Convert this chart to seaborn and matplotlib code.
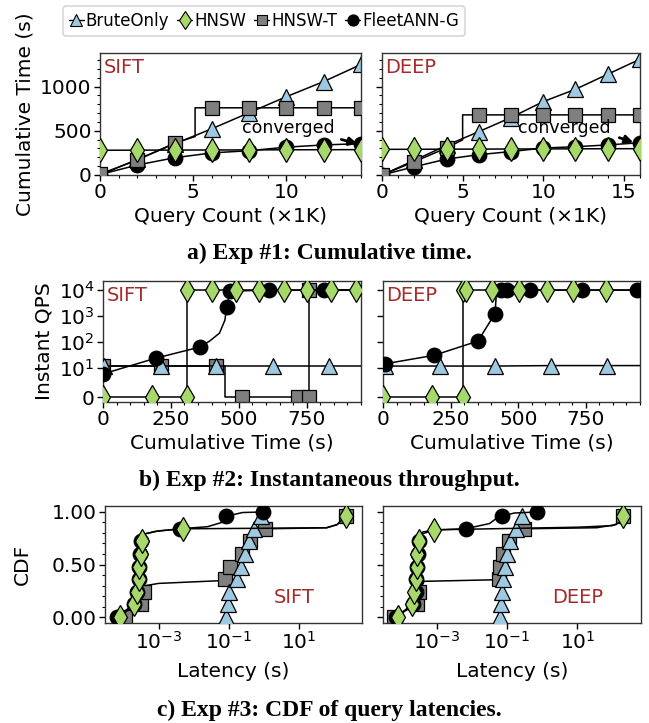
import numpy as np
import matplotlib
matplotlib.use("Agg")
import matplotlib.pyplot as plt
from matplotlib.lines import Line2D
from matplotlib.ticker import MultipleLocator, NullLocator, FixedLocator, FixedFormatter
import seaborn as sns

sns.set_style("ticks")
plt.rcParams["font.family"] = ["DejaVu Sans"]
plt.rcParams["text.color"] = "black"
plt.rcParams["axes.labelcolor"] = "black"
plt.rcParams["xtick.color"] = "black"
plt.rcParams["ytick.color"] = "black"

# ---------------- DATA ----------------
series_names = ["BruteOnly", "HNSW", "HNSW-T", "FleetANN-G"]
datasets = ["SIFT", "DEEP"]

# Exp 1: cumulative time vs query count (x1K)
q_sift = [0, 2, 4, 6, 8, 10, 12, 14]
brute_cum_sift = [0, 176, 352, 523, 705, 886, 1057, 1250]
hnsw_cum_sift = [280, 281, 282, 283, 284, 285, 286, 287]
fleet_cum_sift = [5, 113, 195, 250, 275, 315, 340, 355]
hnswt_q_sift = [0, 2, 4, 5.1, 5.1, 6, 8, 10, 12, 14]
hnswt_cum_sift = [10, 170, 360, 435, 760, 760, 760, 760, 760, 760]
hnswt_mk_sift = [0, 1, 2, 5, 6, 7, 8, 9]

q_deep = [0, 2, 4, 6, 8, 10, 12, 14, 16]
brute_cum_deep = [0, 165, 335, 490, 650, 830, 970, 1140, 1310]
hnsw_cum_deep = [290, 291, 292, 293, 294, 295, 296, 297, 298]
fleet_cum_deep = [0, 93, 180, 230, 265, 305, 320, 340, 365]
hnswt_q_deep = [0, 2, 4, 5.0, 5.0, 6, 8, 10, 12, 14, 16]
hnswt_cum_deep = [0, 150, 306, 398, 680, 680, 680, 680, 680, 680, 680]
hnswt_mk_deep = [0, 1, 2, 5, 6, 7, 8, 9, 10]

# Exp 2: instantaneous QPS vs cumulative time (s)
brute_t_sift = [3, 212, 417, 625, 834, 1042]
brute_qps_sift = [12, 12, 12, 12, 12, 12]
hnsw_t_sift = [0, 182, 310, 310, 400, 488, 576, 665, 753, 841, 930, 1018]
hnsw_qps_sift = [0, 0, 0, 9800, 9800, 9800, 9800, 9800, 9800, 9800, 9800, 9800]
hnswt_t_sift = [0, 212, 417, 450, 450, 513, 717, 760, 760, 1000]
hnswt_qps_sift = [12, 12, 12, 12, 0, 0, 0, 0, 9800, 9800]
hnswt_mk2_sift = [0, 1, 2, 5, 6, 7, 8]
fleet_t_sift = [0, 194, 356, 393, 429, 449, 455, 468, 612, 815, 1000]
fleet_qps_sift = [8, 24, 64, 110, 220, 700, 2150, 9000, 9800, 9800, 9800]
fleet_mk2_sift = [0, 1, 2, 6, 7, 8, 9, 10]

brute_t_deep = [7, 211, 414, 621, 829, 1036]
brute_qps_deep = [12, 12, 12, 12.5, 12.5, 12.5]
hnsw_t_deep = [0, 181, 296, 296, 305, 403, 503, 607, 703, 825, 1050]
hnsw_qps_deep = [0, 0, 0, 9800, 9800, 9800, 9800, 9800, 9800, 9800, 9800]
hnsw_mk2_deep = [0, 1, 2, 3, 4, 5, 6, 7, 8, 9]
fleet_t_deep = [7, 189, 351, 414, 420, 435, 457, 544, 736, 938, 1050]
fleet_qps_deep = [14.6, 31, 109, 1240, 9800, 9800, 9800, 9800, 9800, 9800, 9800]
fleet_mk2_deep = [0, 1, 2, 3, 5, 6, 7, 8, 9]

# Exp 3: CDF of query latencies (latency given as log10 seconds)
brute_lat_sift = [-1.07, -1.03, -1.0, -0.77, -0.65, -0.53, -0.43, -0.27, -0.07]
brute_cdf_sift = [0, 0.12, 0.24, 0.36, 0.48, 0.60, 0.72, 0.84, 0.96]
hnsw_lat_sift = [-4.11, -3.69, -3.63, -3.57, -3.55, -3.50, -3.48, -3.40, -3.0, -2.3, 0.0, 1.8, 2.1, 2.25, 2.34]
hnsw_cdf_sift = [0, 0.12, 0.24, 0.36, 0.48, 0.60, 0.72, 0.79, 0.82, 0.84, 0.845, 0.85, 0.88, 0.93, 0.96]
hnsw_mk3_sift = [0, 1, 2, 3, 4, 5, 6, 9, 14]
hnswt_lat_sift = [-3.97, -3.49, -3.43, -3.35, -3.0, -1.3, -1.09, -0.97, -0.63, -0.40, 0.03, 1.0, 1.8, 2.1, 2.25, 2.34]
hnswt_cdf_sift = [0, 0.12, 0.24, 0.30, 0.32, 0.345, 0.36, 0.48, 0.60, 0.72, 0.84, 0.845, 0.85, 0.88, 0.93, 0.96]
hnswt_mk3_sift = [0, 1, 2, 6, 7, 8, 9, 10, 15]
fleet_lat_sift = [-4.2, -3.71, -3.63, -3.57, -3.55, -3.52, -3.50, -3.42, -3.1, -2.4, -1.6, -1.2, -1.06, -0.6, -0.03, 0.12]
fleet_cdf_sift = [0, 0.12, 0.24, 0.36, 0.48, 0.60, 0.72, 0.79, 0.815, 0.84, 0.86, 0.90, 0.96, 0.995, 1.0, 1.0]
fleet_mk3_sift = [0, 1, 2, 3, 4, 5, 6, 9, 12, 14]

brute_lat_deep = [-1.19, -1.18, -1.14, -1.12, -1.07, -1.0, -0.93, -0.76, -0.57]
brute_cdf_deep = [0, 0.12, 0.24, 0.36, 0.48, 0.60, 0.72, 0.84, 0.96]
hnsw_lat_deep = [-4.11, -3.71, -3.64, -3.60, -3.57, -3.55, -3.52, -3.42, -3.09, 1.0, 2.0, 2.2, 2.31]
hnsw_cdf_deep = [0, 0.12, 0.24, 0.36, 0.48, 0.60, 0.72, 0.79, 0.83, 0.855, 0.87, 0.90, 0.96]
hnsw_mk3_deep = [0, 1, 2, 3, 4, 5, 6, 8, 12]
hnswt_lat_deep = [-4.21, -3.57, -3.50, -3.36, -1.28, -1.23, -1.20, -1.11, -0.95, -0.53, 1.55, 2.1, 2.31]
hnswt_cdf_deep = [0, 0.12, 0.24, 0.34, 0.355, 0.36, 0.48, 0.60, 0.72, 0.84, 0.85, 0.88, 0.96]
hnswt_mk3_deep = [0, 1, 2, 5, 6, 7, 8, 9, 12]
fleet_lat_deep = [-4.16, -3.69, -3.60, -3.60, -3.55, -3.53, -3.50, -3.40, -3.0, -2.18, -1.5, -1.3, -1.14, -0.8, -0.15]
fleet_cdf_deep = [0, 0.12, 0.24, 0.36, 0.48, 0.60, 0.72, 0.81, 0.83, 0.84, 0.89, 0.94, 0.96, 0.99, 1.0]
fleet_mk3_deep = [0, 1, 2, 3, 4, 5, 6, 9, 12, 14]

# ---------------- STYLE ----------------
W, H = 649, 723
colors = {"BruteOnly": "#9ecae1", "HNSW": "#a6d96a", "HNSW-T": "#7f7f7f", "FleetANN-G": "#000000"}
markers = {"BruteOnly": "^", "HNSW": "d", "HNSW-T": "s", "FleetANN-G": "o"}
msize = {"BruteOnly": 11, "HNSW": 12, "HNSW-T": 10, "FleetANN-G": 10.5}
label_red = "#a52a2a"
FS = 14.5

fig = plt.figure(figsize=(W / 100, H / 100), dpi=100)


def rect(x0, y0, x1, y1):
    return [x0 / W, 1 - y1 / H, (x1 - x0) / W, (y1 - y0) / H]


def draw(ax, name, x, y, mk=None, z=2):
    sns.lineplot(x=x, y=y, ax=ax, estimator=None, sort=False, color="black", lw=1.1,
                 marker=markers[name], markevery=mk, markersize=msize[name],
                 markerfacecolor=colors[name], markeredgecolor="black",
                 markeredgewidth=0.9, zorder=z, clip_on=True)


def style_ax(ax):
    for s in ax.spines.values():
        s.set_color("#333333")
        s.set_linewidth(1.0)
    ax.tick_params(which="major", labelsize=FS, length=4, width=1, direction="out", pad=2)
    ax.tick_params(which="minor", length=2.5, width=0.8, direction="out")


# ---------- Row 1 ----------
ax1a = fig.add_axes(rect(100, 53, 361, 175))
ax1b = fig.add_axes(rect(382, 53, 640, 175))
z1 = {"BruteOnly": 2, "FleetANN-G": 3, "HNSW-T": 4, "HNSW": 5}
draw(ax1a, "BruteOnly", q_sift, brute_cum_sift, None, z1["BruteOnly"])
draw(ax1a, "FleetANN-G", q_sift, fleet_cum_sift, None, z1["FleetANN-G"])
draw(ax1a, "HNSW-T", hnswt_q_sift, hnswt_cum_sift, hnswt_mk_sift, z1["HNSW-T"])
draw(ax1a, "HNSW", q_sift, hnsw_cum_sift, None, z1["HNSW"])
draw(ax1b, "BruteOnly", q_deep, brute_cum_deep, None, z1["BruteOnly"])
draw(ax1b, "FleetANN-G", q_deep, fleet_cum_deep, None, z1["FleetANN-G"])
draw(ax1b, "HNSW-T", hnswt_q_deep, hnswt_cum_deep, hnswt_mk_deep, z1["HNSW-T"])
draw(ax1b, "HNSW", q_deep, hnsw_cum_deep, None, z1["HNSW"])
ax1a.set_xlim(0, 14)
ax1b.set_xlim(0, 16)
for ax in (ax1a, ax1b):
    ax.set_ylim(0, 1380)
    ax.xaxis.set_major_locator(MultipleLocator(5))
    ax.xaxis.set_minor_locator(MultipleLocator(1))
    ax.yaxis.set_major_locator(MultipleLocator(500))
    ax.yaxis.set_minor_locator(MultipleLocator(100))
    ax.set_xlabel("Query Count (×1K)", fontsize=FS, labelpad=3)
    ax.set_ylabel("")
    style_ax(ax)
ax1b.tick_params(labelleft=False)
ax1a.set_ylabel("Cumulative Time (s)", fontsize=FS, labelpad=4)
ax1a.text(0.015, 0.96, "SIFT", transform=ax1a.transAxes, color=label_red, fontsize=14, va="top", ha="left")
ax1b.text(0.012, 0.96, "DEEP", transform=ax1b.transAxes, color=label_red, fontsize=14, va="top", ha="left")
ax1a.text(10.1, 534, "converged", fontsize=12.5, ha="center", va="center", zorder=6)
ax1b.text(11.3, 534, "converged", fontsize=12.5, ha="center", va="center", zorder=6)
ax1a.annotate("", xy=(13.95, 345), xytext=(12.8, 410),
              arrowprops=dict(arrowstyle="-|>", color="black", lw=2, mutation_scale=12), zorder=6)
ax1b.annotate("", xy=(15.75, 360), xytext=(14.55, 432),
              arrowprops=dict(arrowstyle="-|>", color="black", lw=2, mutation_scale=12), zorder=6)

# ---------- Row 2 ----------
ax2a = fig.add_axes(rect(103, 281, 361, 402))
ax2b = fig.add_axes(rect(383, 281, 640, 402))
z2 = {"HNSW-T": 2, "BruteOnly": 3, "FleetANN-G": 4, "HNSW": 5}
draw(ax2a, "HNSW-T", hnswt_t_sift, hnswt_qps_sift, hnswt_mk2_sift, z2["HNSW-T"])
draw(ax2a, "BruteOnly", brute_t_sift, brute_qps_sift, None, z2["BruteOnly"])
draw(ax2a, "FleetANN-G", fleet_t_sift, fleet_qps_sift, fleet_mk2_sift, z2["FleetANN-G"])
draw(ax2a, "HNSW", hnsw_t_sift, hnsw_qps_sift, None, z2["HNSW"])
draw(ax2b, "BruteOnly", brute_t_deep, brute_qps_deep, None, z2["BruteOnly"])
draw(ax2b, "FleetANN-G", fleet_t_deep, fleet_qps_deep, fleet_mk2_deep, z2["FleetANN-G"])
draw(ax2b, "HNSW", hnsw_t_deep, hnsw_qps_deep, hnsw_mk2_deep, z2["HNSW"])
for ax in (ax2a, ax2b):
    ax.set_yscale("symlog", linthresh=10, linscale=1)
    ax.set_ylim(-1.7, 2.2e4)
    ax.set_xlim(0, 950)
    ax.yaxis.set_major_locator(FixedLocator([0, 10, 100, 1000, 10000]))
    ax.yaxis.set_major_formatter(FixedFormatter(["0", "$10^1$", "$10^2$", "$10^3$", "$10^4$"]))
    ax.yaxis.set_minor_locator(NullLocator())
    ax.xaxis.set_major_locator(MultipleLocator(250))
    ax.xaxis.set_minor_locator(MultipleLocator(50))
    ax.set_xlabel("Cumulative Time (s)", fontsize=FS, labelpad=3)
    ax.set_ylabel("")
    style_ax(ax)
ax2b.tick_params(labelleft=False)
ax2a.set_ylabel("Instant QPS", fontsize=FS, labelpad=4)
ax2a.text(0.015, 0.96, "SIFT", transform=ax2a.transAxes, color=label_red, fontsize=14, va="top", ha="left")
ax2b.text(0.012, 0.96, "DEEP", transform=ax2b.transAxes, color=label_red, fontsize=14, va="top", ha="left")

# ---------- Row 3 ----------
ax3a = fig.add_axes(rect(105, 506, 362, 623))
ax3b = fig.add_axes(rect(383, 506, 641, 623))
z3 = {"HNSW-T": 2, "BruteOnly": 3, "FleetANN-G": 4, "HNSW": 5}


def tolin(v):
    return [10.0 ** e for e in v]


draw(ax3a, "HNSW-T", tolin(hnswt_lat_sift), hnswt_cdf_sift, hnswt_mk3_sift, z3["HNSW-T"])
draw(ax3a, "BruteOnly", tolin(brute_lat_sift), brute_cdf_sift, None, z3["BruteOnly"])
draw(ax3a, "FleetANN-G", tolin(fleet_lat_sift), fleet_cdf_sift, fleet_mk3_sift, z3["FleetANN-G"])
draw(ax3a, "HNSW", tolin(hnsw_lat_sift), hnsw_cdf_sift, hnsw_mk3_sift, z3["HNSW"])
draw(ax3b, "HNSW-T", tolin(hnswt_lat_deep), hnswt_cdf_deep, hnswt_mk3_deep, z3["HNSW-T"])
draw(ax3b, "BruteOnly", tolin(brute_lat_deep), brute_cdf_deep, None, z3["BruteOnly"])
draw(ax3b, "FleetANN-G", tolin(fleet_lat_deep), fleet_cdf_deep, fleet_mk3_deep, z3["FleetANN-G"])
draw(ax3b, "HNSW", tolin(hnsw_lat_deep), hnsw_cdf_deep, hnsw_mk3_deep, z3["HNSW"])
for ax in (ax3a, ax3b):
    ax.set_xscale("log")
    ax.set_xlim(10 ** -4.53, 10 ** 2.81)
    ax.set_ylim(-0.057, 1.057)
    ax.xaxis.set_major_locator(FixedLocator([1e-3, 1e-1, 1e1]))
    ax.xaxis.set_major_formatter(FixedFormatter(["$10^{-3}$", "$10^{-1}$", "$10^{1}$"]))
    ax.xaxis.set_minor_locator(NullLocator())
    ax.yaxis.set_major_locator(FixedLocator([0, 0.5, 1.0]))
    ax.yaxis.set_major_formatter(FixedFormatter(["0.00", "0.50", "1.00"]))
    ax.yaxis.set_minor_locator(MultipleLocator(0.1))
    ax.set_xlabel("Latency (s)", fontsize=FS, labelpad=6)
    ax.set_ylabel("")
    style_ax(ax)
ax3b.tick_params(labelleft=False)
ax3a.set_ylabel("CDF", fontsize=FS, labelpad=14)
ax3a.text(0.735, 0.22, "SIFT", transform=ax3a.transAxes, color=label_red, fontsize=14, va="center", ha="center")
ax3b.text(0.755, 0.22, "DEEP", transform=ax3b.transAxes, color=label_red, fontsize=14, va="center", ha="center")

# ---------- Captions ----------
cap_kw = dict(ha="center", va="center", fontsize=17, fontweight="bold", family=["Liberation Serif"])
fig.text(329 / W, 1 - 253 / H, "a) Exp #1: Cumulative time.", **cap_kw)
fig.text(329 / W, 1 - 480 / H, "b) Exp #2: Instantaneous throughput.", **cap_kw)
fig.text(329 / W, 1 - 710 / H, "c) Exp #3: CDF of query latencies.", **cap_kw)

# ---------- Legend ----------
handles = [Line2D([0], [0], color="black", lw=1.0, marker=markers[n], markersize=msize[n] - 2.5,
                  markerfacecolor=colors[n], markeredgecolor="black", markeredgewidth=0.8)
           for n in series_names]
leg = fig.legend(handles, series_names, loc="center", bbox_to_anchor=(264 / W, 1 - 21 / H),
                 ncol=4, fontsize=12, handlelength=0.9, handletextpad=0.1, columnspacing=0.5,
                 borderpad=0.35, frameon=True, fancybox=True)
leg.get_frame().set_edgecolor("#cccccc")
leg.get_frame().set_linewidth(1.2)

fig.savefig("out.png", dpi=100)
